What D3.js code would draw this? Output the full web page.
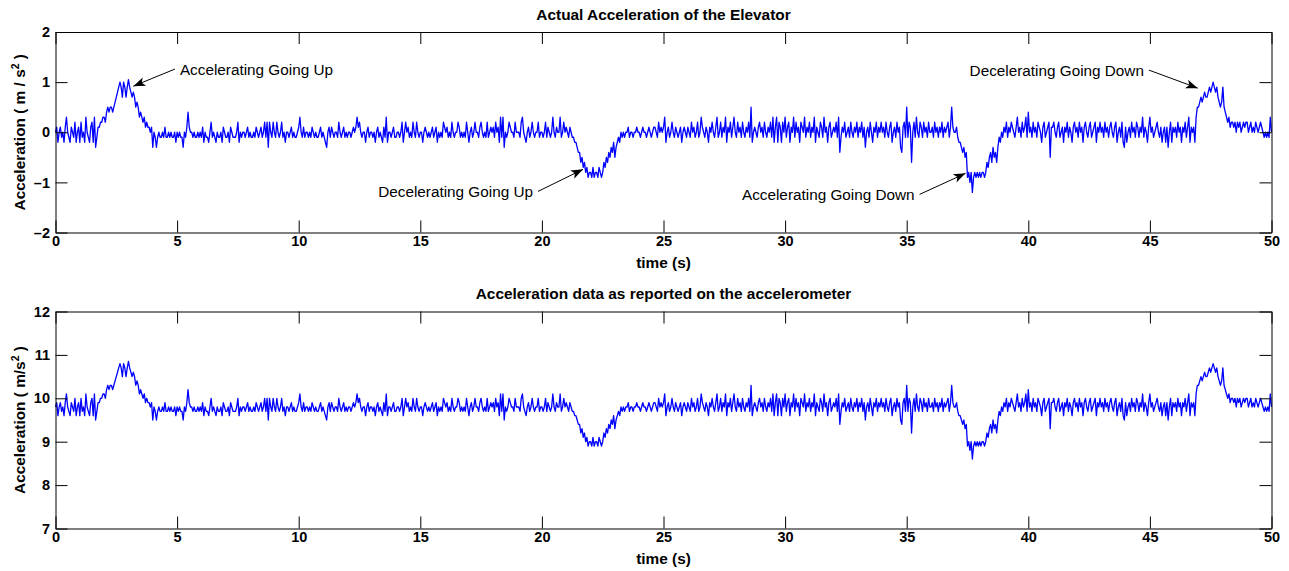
<!DOCTYPE html>
<html>
<head>
<meta charset="utf-8">
<script src="https://cdn.jsdelivr.net/npm/d3@7"></script>
<style>
body { margin: 0; background: #fff; }
svg { display: block; font-family: "Liberation Sans", Arial, Helvetica, sans-serif; }
.axis text { font-family: "Liberation Sans", Arial, sans-serif; font-size: 14.5px; font-weight: bold; fill: #000; }
.axis path, .axis line { stroke: #000; stroke-width: 1; fill: none; }
.title, .axis-label { font-size: 15.4px; font-weight: bold; fill: #000; }
.note { font-size: 15.3px; fill: #000; }
.signal { fill: none; stroke: #0000ff; stroke-width: 1.3; stroke-linejoin: round; }
</style>
</head>
<body>
<div id="chart"></div>
<script>

// sampling interval of the logged signal (s)
var sampleStep = 0.05;

// actual acceleration of the elevator (m/s^2), one row = one second (20 samples)
var actualAcc = [
    0,.1,-.2,0,.1,-.1,0,-.2,.1,.3,0,-.1,-.2,.1,0,-.1,.2,-.2,0,.1,
    -.2,.2,-.1,0,-.2,.3,0,-.1,-.2,.1,.2,-.2,.3,-.3,-.1,.1,.1,.2,.2,.3,
    .3,.2,.4,.5,.4,.5,.5,.4,.5,.6,.7,.8,.9,1,.9,.7,1,.9,.7,.9,
    1.05,.9,.8,.7,.8,.7,.5,.6,.5,.3,.4,.3,.2,.3,.1,.2,.1,.1,0,.1,
    -.3,0,-.1,-.3,-.1,0,-.1,-.1,0,-.1,.1,-.1,-.1,0,-.1,0,-.1,-.1,0,-.2,
    0,-.1,0,-.1,-.1,-.3,0,-.1,.1,.4,.1,0,0,-.1,0,-.1,-.1,0,-.1,0,
    -.1,.1,-.2,0,-.1,-.1,-.2,0,.2,-.1,0,-.1,-.2,0,-.1,-.1,0,-.2,.1,0,
    -.1,-.1,0,-.2,.1,0,-.1,-.1,-.1,0,.2,-.2,0,-.1,0,0,-.1,0,.1,-.1,
    0,-.1,-.1,0,-.1,.1,0,-.1,0,.1,-.1,0,.2,-.1,.2,-.3,.2,0,-.1,.2,
    0,-.1,.2,0,-.1,0,.2,-.1,0,-.2,0,0,-.1,0,.1,-.1,0,-.1,-.1,0,
    .1,.3,0,-.1,.1,-.1,0,0,-.1,0,-.1,.1,0,-.1,0,-.1,-.1,0,.1,-.1,
    0,-.1,-.2,-.3,0,.1,-.1,.1,0,-.1,0,0,-.1,.2,0,-.1,0,.1,-.1,0,
    -.1,0,0,-.1,0,.1,0,.1,.3,.1,.2,0,-.1,0,0,-.2,0,.1,-.1,0,
    0,-.1,0,-.2,0,.1,-.1,0,-.1,-.2,.1,-.1,.3,-.2,0,0,-.1,0,.1,-.1,
    -.1,0,0,-.1,0,.2,-.2,0,.2,0,.1,-.1,0,-.1,.2,0,-.1,.2,0,-.1,
    0,0,-.2,0,.1,0,-.1,0,-.1,0,.1,-.1,0,.1,-.2,0,-.1,0,-.1,.2,
    .1,0,.1,-.1,0,-.1,.2,0,-.1,0,0,.2,.1,-.1,0,-.1,0,-.1,.2,0,
    -.2,0,.1,-.1,0,.2,0,0,-.1,.1,.2,0,-.1,0,-.1,.2,-.1,0,.1,0,
    .1,-.1,.2,0,.1,-.2,.3,-.1,.3,-.3,0,-.1,0,.2,.1,0,0,-.1,.2,0,
    0,0,-.1,.2,.3,0,-.1,-.2,0,.1,-.1,0,.2,0,-.1,0,0,.2,-.1,0,
    0,-.1,0,.2,-.1,.1,0,-.1,0,.3,0,-.1,.1,0,0,.3,-.1,0,.2,0,
    .1,0,-.1,.1,0,-.1,-.1,-.2,-.2,-.3,-.4,-.4,-.6,-.5,-.7,-.6,-.8,-.7,-.9,-.8,
    -.8,-.9,-.7,-.9,-.8,-.8,-.9,-.7,-.8,-.9,-.8,-.6,-.7,-.5,-.6,-.4,-.5,-.3,-.4,-.2,
    -.5,-.3,-.2,-.1,-.2,0,-.1,0,-.1,0,0,.1,-.1,0,0,-.1,0,0,.1,0,
    0,-.1,0,.1,0,0,-.1,0,.1,0,-.1,0,.1,.1,0,-.1,.2,0,.1,0,
    .1,.3,-.2,0,.1,-.1,0,.2,0,-.1,.1,0,-.1,0,.1,-.2,0,.1,0,-.1,
    .1,0,-.1,.2,0,.1,-.1,0,.2,-.1,0,.3,.1,0,-.1,.1,0,-.2,.1,0,
    .2,0,-.1,.1,.3,-.1,0,.2,-.1,.1,0,.3,-.2,.1,0,.2,-.1,.1,.3,0,
    -.1,.2,0,.1,-.1,.2,0,-.1,.1,0,.2,-.1,.5,-.2,0,.1,0,-.1,.1,.2,
    0,.1,-.1,.2,0,-.1,.1,0,.2,-.1,.3,-.2,.1,.3,-.2,.2,.1,-.2,.2,0,
    .3,-.1,.1,.2,-.2,.1,0,.3,-.1,.2,0,.1,-.2,.2,.1,0,.3,-.1,.1,0,
    .2,-.1,.1,0,.3,-.2,.1,0,-.1,.2,.1,-.1,.3,0,.1,-.2,.1,.2,-.1,0,
    .1,0,.2,-.1,.3,-.4,-.1,.1,0,.2,-.1,0,.1,-.1,.2,0,-.1,.1,0,.2,
    -.1,.1,0,.2,-.1,.1,-.3,0,.1,-.1,.2,0,-.2,.1,0,.2,-.1,.1,0,.2,
    0,.1,-.1,.2,0,-.1,.1,.2,-.2,0,.1,-.1,.2,0,.1,-.3,-.4,.1,.2,-.1,
    .5,-.1,.2,.1,-.6,0,.2,-.1,.3,0,-.1,.2,.1,-.1,.2,0,.1,-.1,.2,0,
    0,.1,-.1,.2,0,.1,-.1,.1,0,.2,-.1,.1,0,.1,.2,-.1,.1,.5,.1,0,
    0,.1,-.1,-.2,-.2,-.3,-.4,-.3,-.5,-.4,-.9,-.8,-1,-.8,-1.2,-.9,-.8,-.9,-.8,-.9,
    -.8,-.9,-.8,-.8,-.9,-.8,-.6,-.7,-.5,-.4,-.6,-.3,-.5,-.4,-.6,-.3,-.1,-.2,0,-.1,
    .1,0,.2,-.1,.1,0,.2,.1,0,-.1,.1,.3,0,.1,-.1,.2,0,.1,.3,-.1,
    .4,0,.1,-.1,.2,0,.1,-.1,.2,.1,0,-.2,.1,.2,-.1,0,.1,.2,-.5,.1,
    .1,.2,0,-.1,.1,.2,-.1,0,.1,-.2,.1,0,.2,-.1,.1,0,-.2,.1,.2,0,
    .1,-.1,.2,0,.1,-.2,.1,.2,0,-.1,.1,.2,-.1,0,.1,.2,-.2,.1,0,.2,
    0,.1,-.1,.2,0,.1,-.1,.1,.2,0,-.1,.1,.2,-.2,0,.1,-.1,.2,-.2,-.3,
    .1,-.2,0,.1,-.1,.2,0,.1,-.1,.2,.1,-.1,.1,0,.3,-.1,.1,0,-.2,.1,
    .3,0,.1,-.1,0,.1,.2,0,-.1,.1,-.2,0,.1,-.2,.1,-.3,0,.2,-.2,.1,
    0,.1,-.1,.2,0,.1,-.2,.1,0,.2,-.1,.1,.3,-.2,.1,0,.1,-.2,.3,.5,
    .5,.6,.7,.6,.7,.8,.7,.7,.8,.9,.8,.9,1,.9,.8,.9,.7,.6,.5,.6,
    .9,.5,.4,.3,.2,.3,.1,.2,.2,.1,.2,0,.2,.1,.2,0,.1,.2,.1,.2,
    .2,0,.1,.2,0,.1,0,.2,.1,0,.1,.2,.1,0,-.1,0,-.1,0,-.1,.3,
    0
];

// the accelerometer also feels gravity
var gravity = 9.8;

var xTicks = [0, 5, 10, 15, 20, 25, 30, 35, 40, 45, 50];
var topYTicks = [-2, -1, 0, 1, 2];
var bottomYTicks = [7, 8, 9, 10, 11, 12];

// label, arrow tip [t, a], arrow tail [t, a] (data units of the top panel)
var annotations = [
    {label: "Accelerating Going Up",   tip: [3.2, 0.92],   tail: [4.91, 1.26]},
    {label: "Decelerating Going Up",   tip: [21.69, -0.74], tail: [19.84, -1.18]},
    {label: "Accelerating Going Down", tip: [37.42, -0.82], tail: [35.53, -1.24]},
    {label: "Decelerating Going Down", tip: [46.97, 0.88],  tail: [44.96, 1.24]}
];


var width = 1289, height = 571;

var svg = d3.select("#chart").append("svg")
    .attr("width", width)
    .attr("height", height);

svg.append("rect")
    .attr("width", width)
    .attr("height", height)
    .attr("fill", "#fff");

svg.append("defs").append("marker")
    .attr("id", "head")
    .attr("viewBox", "-13 -6 14 12")
    .attr("refX", 0)
    .attr("refY", 0)
    .attr("markerWidth", 14)
    .attr("markerHeight", 12)
    .attr("markerUnits", "userSpaceOnUse")
    .attr("orient", "auto")
    .append("path")
    .attr("d", "M0,0L-12,-4.5L-9,0L-12,4.5Z")
    .attr("fill", "#000");

var seriesTime = actualAcc.map(function(d, i) { return i * sampleStep; });


/*
 * One subplot: boxed axes with inward ticks and a blue line
 */

AccelPanel = function(_parent, _values, _opts){
    this.parent = _parent;
    this.values = _values;
    this.opts = _opts;
    this.initVis();
}

AccelPanel.prototype.initVis = function(){
    var vis = this;
    var o = vis.opts;

    vis.left = 55.5;
    vis.right = 1271.5;
    vis.top = o.top;
    vis.bottom = o.bottom;

    vis.x = d3.scaleLinear()
        .domain([0, 50])
        .range([vis.left, vis.right]);

    vis.y = d3.scaleLinear()
        .domain(o.yDomain)
        .range([vis.bottom, vis.top]);

    vis.g = vis.parent.append("g");

    vis.line = d3.line()
        .x(function(d, i) { return vis.x(seriesTime[i]); })
        .y(function(d) { return vis.y(d); });

    vis.g.append("path")
        .datum(vis.values)
        .attr("class", "signal")
        .attr("d", vis.line);

    // bottom, top, left, right (ticks point inward)
    vis.g.append("g")
        .attr("class", "axis")
        .attr("transform", "translate(0," + vis.bottom + ")")
        .call(d3.axisBottom(vis.x).tickValues(xTicks).tickSizeInner(-12).tickSizeOuter(0)
            .tickPadding(3).tickFormat(function(d) { return String(d); }));

    vis.g.append("g")
        .attr("class", "axis")
        .attr("transform", "translate(0," + vis.top + ")")
        .call(d3.axisTop(vis.x).tickValues(xTicks).tickSizeInner(-12).tickSizeOuter(0)
            .tickFormat(""));

    vis.g.append("g")
        .attr("class", "axis")
        .attr("transform", "translate(" + vis.left + ",0)")
        .call(d3.axisLeft(vis.y).tickValues(o.yTicks).tickSizeInner(-12).tickSizeOuter(0)
            .tickPadding(5.5).tickFormat(function(d) { return String(d).replace("-", "\u2013"); }));

    vis.g.append("g")
        .attr("class", "axis")
        .attr("transform", "translate(" + vis.right + ",0)")
        .call(d3.axisRight(vis.y).tickValues(o.yTicks).tickSizeInner(-12).tickSizeOuter(0)
            .tickFormat(""));

    var cx = (vis.left + vis.right) / 2;

    vis.g.append("text")
        .attr("class", "title")
        .attr("x", cx)
        .attr("y", vis.top - 12.5)
        .attr("text-anchor", "middle")
        .text(o.title);

    vis.g.append("text")
        .attr("class", "axis-label")
        .attr("x", cx)
        .attr("y", vis.bottom + 35.5)
        .attr("text-anchor", "middle")
        .text("time (s)");

    var yl = vis.g.append("text")
        .attr("class", "axis-label")
        .attr("transform", "translate(25," + ((vis.top + vis.bottom) / 2) + ") rotate(-90)")
        .attr("text-anchor", "middle");
    yl.append("tspan").text(o.yUnitsPre);
    yl.append("tspan").attr("dy", -6).style("font-size", "10.5px").text("2");
    yl.append("tspan").attr("dy", 6).text(" )");
}

AccelPanel.prototype.annotate = function(notes){
    var vis = this;

    notes.forEach(function(n){
        var tx = vis.x(n.tail[0]), ty = vis.y(n.tail[1]);
        var px = vis.x(n.tip[0]), py = vis.y(n.tip[1]);
        var toRight = tx > px;

        vis.g.append("line")
            .attr("x1", tx).attr("y1", ty)
            .attr("x2", px).attr("y2", py)
            .attr("stroke", "#000")
            .attr("stroke-width", 1)
            .attr("marker-end", "url(#head)");

        vis.g.append("text")
            .attr("class", "note")
            .attr("x", toRight ? tx + 5 : tx - 5)
            .attr("y", ty)
            .attr("dy", "0.36em")
            .attr("text-anchor", toRight ? "start" : "end")
            .text(n.label);
    });
}


var topPanel = new AccelPanel(svg, actualAcc, {
    top: 32, bottom: 232.5,
    yDomain: [-2, 2], yTicks: topYTicks,
    title: "Actual Acceleration of the Elevator",
    yUnitsPre: "Acceleration ( m / s"
});
topPanel.annotate(annotations);

var reportedAcc = actualAcc.map(function(d) { return d + gravity; });

var bottomPanel = new AccelPanel(svg, reportedAcc, {
    top: 311.5, bottom: 528.5,
    yDomain: [7, 12], yTicks: bottomYTicks,
    title: "Acceleration data as reported on the accelerometer",
    yUnitsPre: "Acceleration ( m/s"
});

</script>
</body>
</html>
